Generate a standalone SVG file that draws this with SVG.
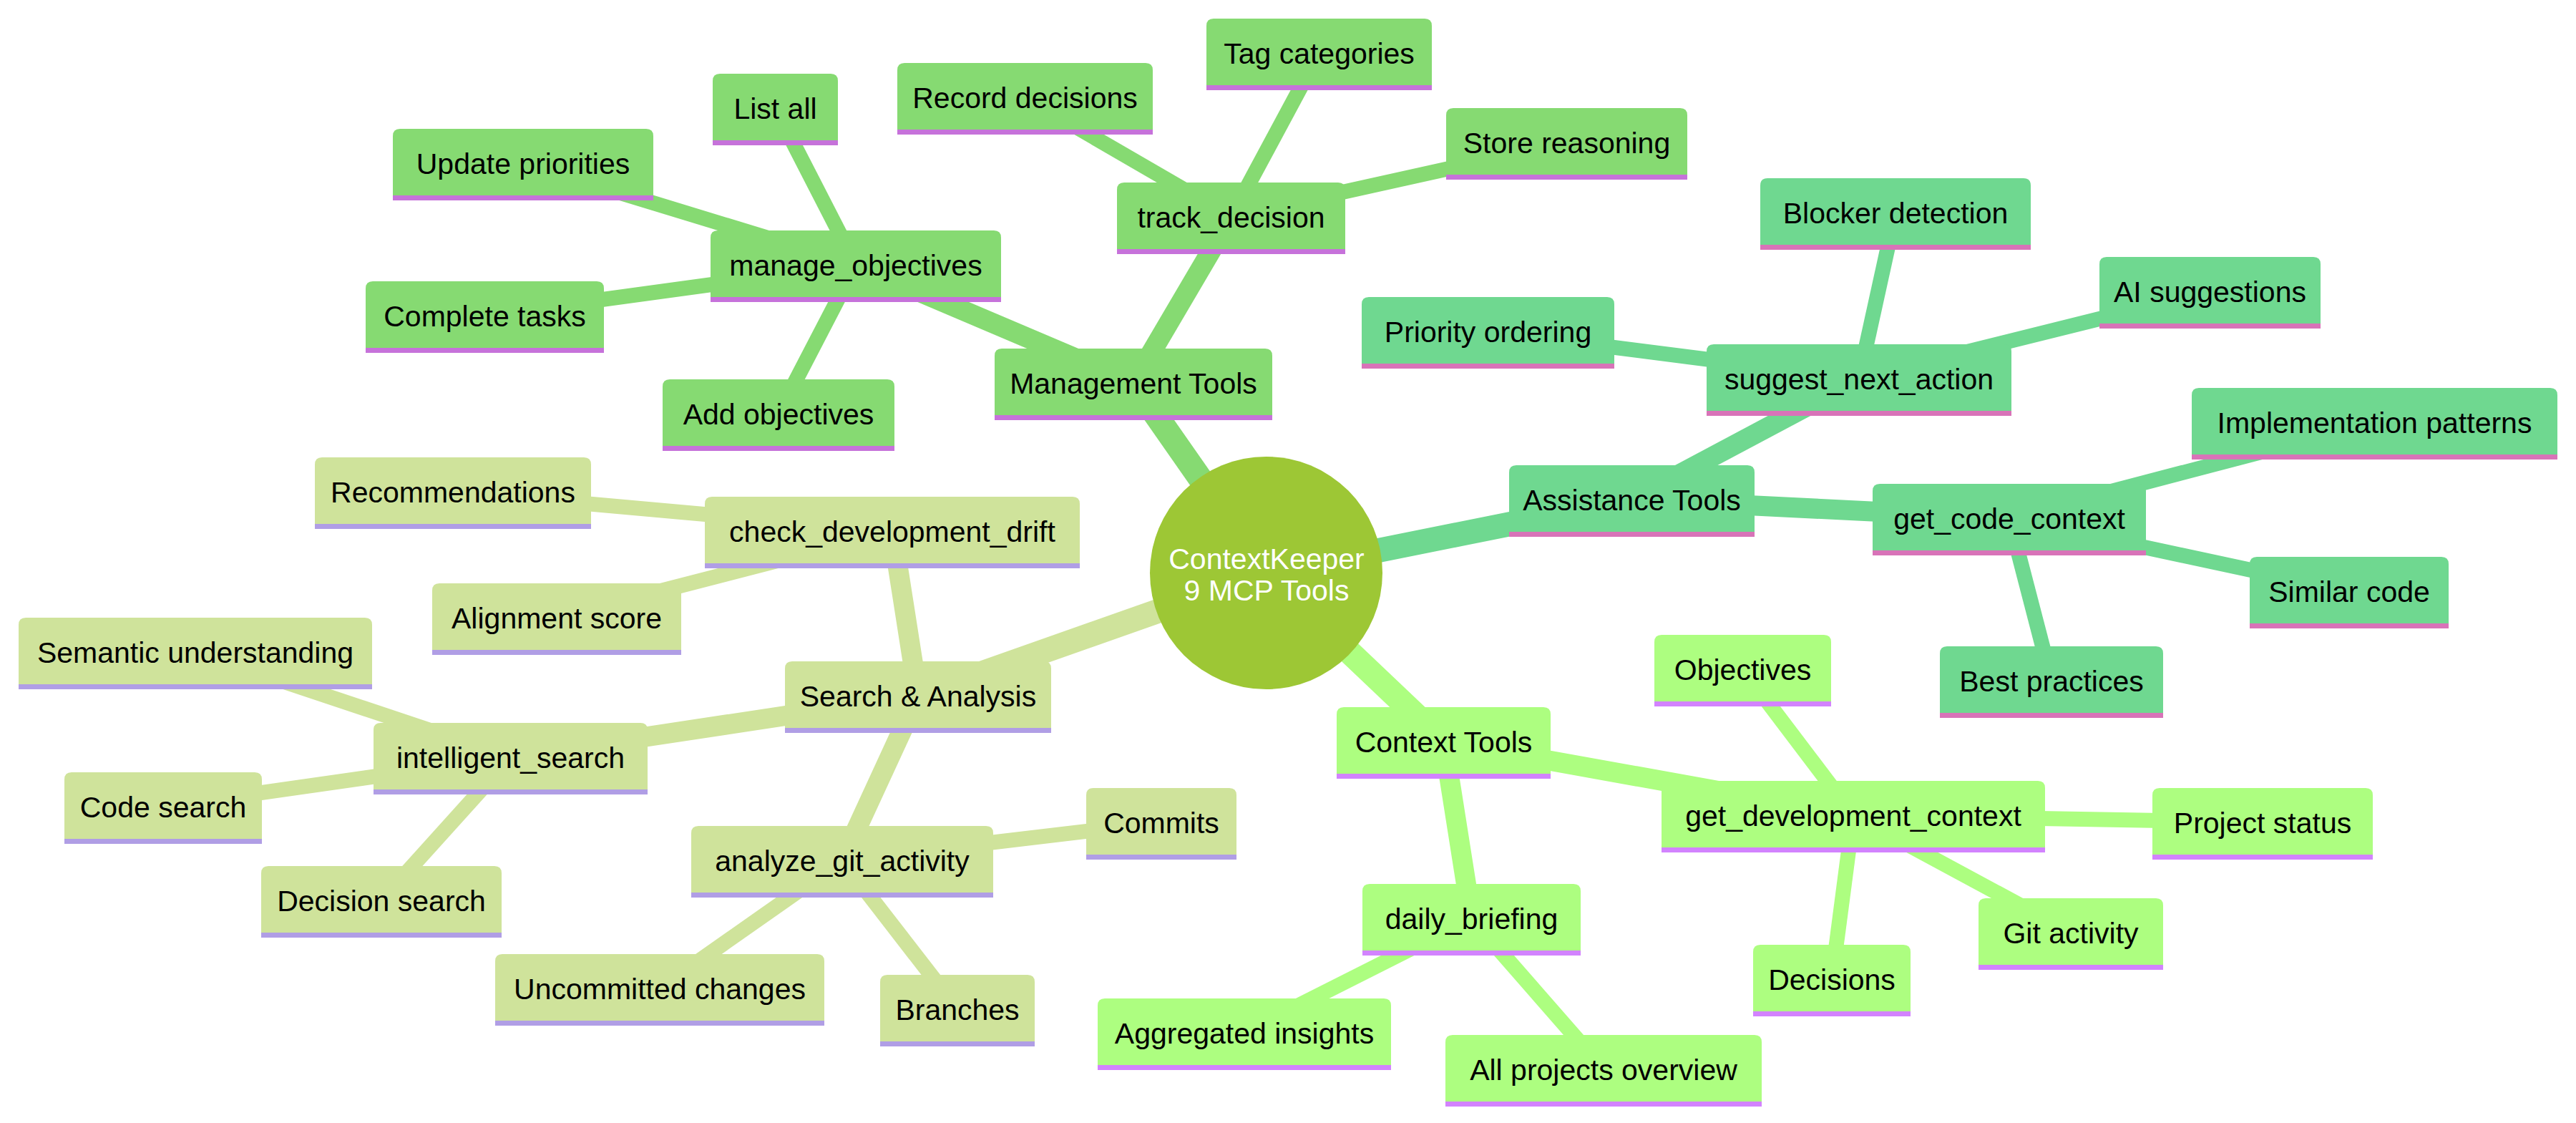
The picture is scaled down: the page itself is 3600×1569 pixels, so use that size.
<svg xmlns="http://www.w3.org/2000/svg" width="3600" height="1569" viewBox="0 0 3600 1569">
<style>
  .bg{fill:#ffffff}
  .lbl{font-family:"Liberation Sans",Arial,sans-serif;font-size:41px;fill:#000000;text-anchor:middle}
  .rootlbl{font-family:"Liberation Sans",Arial,sans-serif;font-size:41px;fill:#ffffff;text-anchor:middle}
  .d0{stroke-width:34;fill:none}
  .d1{stroke-width:28;fill:none}
  .d2{stroke-width:21;fill:none}
  .bar{stroke-width:7}
  .s0 path{fill:#86da72}.s0 line.bar{stroke:#c672da}.e0{stroke:#86da72}
  .s1 path{fill:#6fd890}.s1 line.bar{stroke:#d873b8}.e1{stroke:#6fd890}
  .s2 path{fill:#adfe80}.s2 line.bar{stroke:#d283fe}.e2{stroke:#adfe80}
  .s3 path{fill:#cfe39b}.s3 line.bar{stroke:#b09ee5}.e3{stroke:#cfe39b}
</style>
<rect class="bg" x="0" y="0" width="3600" height="1569"/>
<g id="connectors">
  <line class="d0 e0" x1="1769.5" y1="800.5" x2="1584" y2="535"/>
  <line class="d0 e1" x1="1769.5" y1="800.5" x2="2280.5" y2="698"/>
  <line class="d0 e2" x1="1769.5" y1="800.5" x2="2017.5" y2="1036"/>
  <line class="d0 e3" x1="1769.5" y1="800.5" x2="1283" y2="972"/>
  <line class="d1 e0" x1="1584" y1="535" x2="1196" y2="370"/>
  <line class="d1 e0" x1="1584" y1="535" x2="1720.5" y2="303"/>
  <line class="d2 e0" x1="1196" y1="370" x2="1083.5" y2="151"/>
  <line class="d2 e0" x1="1196" y1="370" x2="731" y2="228"/>
  <line class="d2 e0" x1="1196" y1="370" x2="677.5" y2="441"/>
  <line class="d2 e0" x1="1196" y1="370" x2="1088" y2="578"/>
  <line class="d2 e0" x1="1720.5" y1="303" x2="1432.5" y2="136"/>
  <line class="d2 e0" x1="1720.5" y1="303" x2="1843.5" y2="74"/>
  <line class="d2 e0" x1="1720.5" y1="303" x2="2189.5" y2="199"/>
  <line class="d1 e1" x1="2280.5" y1="698" x2="2598" y2="529"/>
  <line class="d1 e1" x1="2280.5" y1="698" x2="2808" y2="724"/>
  <line class="d2 e1" x1="2598" y1="529" x2="2079.5" y2="463"/>
  <line class="d2 e1" x1="2598" y1="529" x2="2649" y2="297"/>
  <line class="d2 e1" x1="2598" y1="529" x2="3088.5" y2="407"/>
  <line class="d2 e1" x1="2808" y1="724" x2="3318.5" y2="590"/>
  <line class="d2 e1" x1="2808" y1="724" x2="3283" y2="826"/>
  <line class="d2 e1" x1="2808" y1="724" x2="2867" y2="951"/>
  <line class="d1 e2" x1="2017.5" y1="1036" x2="2590" y2="1139"/>
  <line class="d1 e2" x1="2017.5" y1="1036" x2="2056.5" y2="1283"/>
  <line class="d2 e2" x1="2590" y1="1139" x2="2435.5" y2="935"/>
  <line class="d2 e2" x1="2590" y1="1139" x2="3162" y2="1149"/>
  <line class="d2 e2" x1="2590" y1="1139" x2="2894" y2="1303"/>
  <line class="d2 e2" x1="2590" y1="1139" x2="2560" y2="1368"/>
  <line class="d2 e2" x1="2056.5" y1="1283" x2="1739" y2="1443"/>
  <line class="d2 e2" x1="2056.5" y1="1283" x2="2241" y2="1494"/>
  <line class="d1 e3" x1="1283" y1="972" x2="1247" y2="742"/>
  <line class="d1 e3" x1="1283" y1="972" x2="713.5" y2="1058"/>
  <line class="d1 e3" x1="1283" y1="972" x2="1177" y2="1202"/>
  <line class="d2 e3" x1="1247" y1="742" x2="633" y2="687"/>
  <line class="d2 e3" x1="1247" y1="742" x2="778" y2="863"/>
  <line class="d2 e3" x1="713.5" y1="1058" x2="273" y2="911"/>
  <line class="d2 e3" x1="713.5" y1="1058" x2="228" y2="1127"/>
  <line class="d2 e3" x1="713.5" y1="1058" x2="533" y2="1258"/>
  <line class="d2 e3" x1="1177" y1="1202" x2="1623" y2="1149"/>
  <line class="d2 e3" x1="1177" y1="1202" x2="1338" y2="1410"/>
  <line class="d2 e3" x1="1177" y1="1202" x2="922" y2="1381"/>
</g>
<g id="root">
  <circle cx="1769.5" cy="800.5" r="162.5" fill="#9dc735"/>
  <text class="rootlbl" x="1770" y="795">ContextKeeper</text>
  <text class="rootlbl" x="1770" y="839">9 MCP Tools</text>
</g>
<g id="management-tools" class="s0"><path d="M1390,584V497Q1390,487 1400,487H1768Q1778,487 1778,497V584Z"/><line class="bar" x1="1390" y1="583.5" x2="1778" y2="583.5"/><text class="lbl" x="1584" y="550">Management Tools</text></g>
<g id="manage-objectives" class="s0"><path d="M993,419V332Q993,322 1003,322H1389Q1399,322 1399,332V419Z"/><line class="bar" x1="993" y1="418.5" x2="1399" y2="418.5"/><text class="lbl" x="1196" y="385">manage_objectives</text></g>
<g id="track-decision" class="s0"><path d="M1561,352V265Q1561,255 1571,255H1870Q1880,255 1880,265V352Z"/><line class="bar" x1="1561" y1="351.5" x2="1880" y2="351.5"/><text class="lbl" x="1720.5" y="318">track_decision</text></g>
<g id="list-all" class="s0"><path d="M996,200V113Q996,103 1006,103H1161Q1171,103 1171,113V200Z"/><line class="bar" x1="996" y1="199.5" x2="1171" y2="199.5"/><text class="lbl" x="1083.5" y="166">List all</text></g>
<g id="update-priorities" class="s0"><path d="M549,277V190Q549,180 559,180H903Q913,180 913,190V277Z"/><line class="bar" x1="549" y1="276.5" x2="913" y2="276.5"/><text class="lbl" x="731" y="243">Update priorities</text></g>
<g id="complete-tasks" class="s0"><path d="M511,490V403Q511,393 521,393H834Q844,393 844,403V490Z"/><line class="bar" x1="511" y1="489.5" x2="844" y2="489.5"/><text class="lbl" x="677.5" y="456">Complete tasks</text></g>
<g id="add-objectives" class="s0"><path d="M926,627V540Q926,530 936,530H1240Q1250,530 1250,540V627Z"/><line class="bar" x1="926" y1="626.5" x2="1250" y2="626.5"/><text class="lbl" x="1088" y="593">Add objectives</text></g>
<g id="record-decisions" class="s0"><path d="M1254,185V98Q1254,88 1264,88H1601Q1611,88 1611,98V185Z"/><line class="bar" x1="1254" y1="184.5" x2="1611" y2="184.5"/><text class="lbl" x="1432.5" y="151">Record decisions</text></g>
<g id="tag-categories" class="s0"><path d="M1686,123V36Q1686,26 1696,26H1991Q2001,26 2001,36V123Z"/><line class="bar" x1="1686" y1="122.5" x2="2001" y2="122.5"/><text class="lbl" x="1843.5" y="89">Tag categories</text></g>
<g id="store-reasoning" class="s0"><path d="M2021,248V161Q2021,151 2031,151H2348Q2358,151 2358,161V248Z"/><line class="bar" x1="2021" y1="247.5" x2="2358" y2="247.5"/><text class="lbl" x="2189.5" y="214">Store reasoning</text></g>
<g id="assistance-tools" class="s1"><path d="M2109,747V660Q2109,650 2119,650H2442Q2452,650 2452,660V747Z"/><line class="bar" x1="2109" y1="746.5" x2="2452" y2="746.5"/><text class="lbl" x="2280.5" y="713">Assistance Tools</text></g>
<g id="suggest-next-action" class="s1"><path d="M2385,578V491Q2385,481 2395,481H2801Q2811,481 2811,491V578Z"/><line class="bar" x1="2385" y1="577.5" x2="2811" y2="577.5"/><text class="lbl" x="2598" y="544">suggest_next_action</text></g>
<g id="get-code-context" class="s1"><path d="M2617,773V686Q2617,676 2627,676H2989Q2999,676 2999,686V773Z"/><line class="bar" x1="2617" y1="772.5" x2="2999" y2="772.5"/><text class="lbl" x="2808" y="739">get_code_context</text></g>
<g id="priority-ordering" class="s1"><path d="M1903,512V425Q1903,415 1913,415H2246Q2256,415 2256,425V512Z"/><line class="bar" x1="1903" y1="511.5" x2="2256" y2="511.5"/><text class="lbl" x="2079.5" y="478">Priority ordering</text></g>
<g id="blocker-detection" class="s1"><path d="M2460,346V259Q2460,249 2470,249H2828Q2838,249 2838,259V346Z"/><line class="bar" x1="2460" y1="345.5" x2="2838" y2="345.5"/><text class="lbl" x="2649" y="312">Blocker detection</text></g>
<g id="ai-suggestions" class="s1"><path d="M2934,456V369Q2934,359 2944,359H3233Q3243,359 3243,369V456Z"/><line class="bar" x1="2934" y1="455.5" x2="3243" y2="455.5"/><text class="lbl" x="3088.5" y="422">AI suggestions</text></g>
<g id="implementation-patterns" class="s1"><path d="M3063,639V552Q3063,542 3073,542H3564Q3574,542 3574,552V639Z"/><line class="bar" x1="3063" y1="638.5" x2="3574" y2="638.5"/><text class="lbl" x="3318.5" y="605">Implementation patterns</text></g>
<g id="similar-code" class="s1"><path d="M3144,875V788Q3144,778 3154,778H3412Q3422,778 3422,788V875Z"/><line class="bar" x1="3144" y1="874.5" x2="3422" y2="874.5"/><text class="lbl" x="3283" y="841">Similar code</text></g>
<g id="best-practices" class="s1"><path d="M2711,1000V913Q2711,903 2721,903H3013Q3023,903 3023,913V1000Z"/><line class="bar" x1="2711" y1="999.5" x2="3023" y2="999.5"/><text class="lbl" x="2867" y="966">Best practices</text></g>
<g id="context-tools" class="s2"><path d="M1868,1085V998Q1868,988 1878,988H2157Q2167,988 2167,998V1085Z"/><line class="bar" x1="1868" y1="1084.5" x2="2167" y2="1084.5"/><text class="lbl" x="2017.5" y="1051">Context Tools</text></g>
<g id="get-development-context" class="s2"><path d="M2322,1188V1101Q2322,1091 2332,1091H2848Q2858,1091 2858,1101V1188Z"/><line class="bar" x1="2322" y1="1187.5" x2="2858" y2="1187.5"/><text class="lbl" x="2590" y="1154">get_development_context</text></g>
<g id="daily-briefing" class="s2"><path d="M1904,1332V1245Q1904,1235 1914,1235H2199Q2209,1235 2209,1245V1332Z"/><line class="bar" x1="1904" y1="1331.5" x2="2209" y2="1331.5"/><text class="lbl" x="2056.5" y="1298">daily_briefing</text></g>
<g id="objectives" class="s2"><path d="M2312,984V897Q2312,887 2322,887H2549Q2559,887 2559,897V984Z"/><line class="bar" x1="2312" y1="983.5" x2="2559" y2="983.5"/><text class="lbl" x="2435.5" y="950">Objectives</text></g>
<g id="project-status" class="s2"><path d="M3008,1198V1111Q3008,1101 3018,1101H3306Q3316,1101 3316,1111V1198Z"/><line class="bar" x1="3008" y1="1197.5" x2="3316" y2="1197.5"/><text class="lbl" x="3162" y="1164">Project status</text></g>
<g id="git-activity" class="s2"><path d="M2765,1352V1265Q2765,1255 2775,1255H3013Q3023,1255 3023,1265V1352Z"/><line class="bar" x1="2765" y1="1351.5" x2="3023" y2="1351.5"/><text class="lbl" x="2894" y="1318">Git activity</text></g>
<g id="decisions" class="s2"><path d="M2450,1417V1330Q2450,1320 2460,1320H2660Q2670,1320 2670,1330V1417Z"/><line class="bar" x1="2450" y1="1416.5" x2="2670" y2="1416.5"/><text class="lbl" x="2560" y="1383">Decisions</text></g>
<g id="aggregated-insights" class="s2"><path d="M1534,1492V1405Q1534,1395 1544,1395H1934Q1944,1395 1944,1405V1492Z"/><line class="bar" x1="1534" y1="1491.5" x2="1944" y2="1491.5"/><text class="lbl" x="1739" y="1458">Aggregated insights</text></g>
<g id="all-projects-overview" class="s2"><path d="M2020,1543V1456Q2020,1446 2030,1446H2452Q2462,1446 2462,1456V1543Z"/><line class="bar" x1="2020" y1="1542.5" x2="2462" y2="1542.5"/><text class="lbl" x="2241" y="1509">All projects overview</text></g>
<g id="search-analysis" class="s3"><path d="M1097,1021V934Q1097,924 1107,924H1459Q1469,924 1469,934V1021Z"/><line class="bar" x1="1097" y1="1020.5" x2="1469" y2="1020.5"/><text class="lbl" x="1283" y="987">Search &amp; Analysis</text></g>
<g id="check-development-drift" class="s3"><path d="M985,791V704Q985,694 995,694H1499Q1509,694 1509,704V791Z"/><line class="bar" x1="985" y1="790.5" x2="1509" y2="790.5"/><text class="lbl" x="1247" y="757">check_development_drift</text></g>
<g id="intelligent-search" class="s3"><path d="M522,1107V1020Q522,1010 532,1010H895Q905,1010 905,1020V1107Z"/><line class="bar" x1="522" y1="1106.5" x2="905" y2="1106.5"/><text class="lbl" x="713.5" y="1073">intelligent_search</text></g>
<g id="analyze-git-activity" class="s3"><path d="M966,1251V1164Q966,1154 976,1154H1378Q1388,1154 1388,1164V1251Z"/><line class="bar" x1="966" y1="1250.5" x2="1388" y2="1250.5"/><text class="lbl" x="1177" y="1217">analyze_git_activity</text></g>
<g id="recommendations" class="s3"><path d="M440,736V649Q440,639 450,639H816Q826,639 826,649V736Z"/><line class="bar" x1="440" y1="735.5" x2="826" y2="735.5"/><text class="lbl" x="633" y="702">Recommendations</text></g>
<g id="alignment-score" class="s3"><path d="M604,912V825Q604,815 614,815H942Q952,815 952,825V912Z"/><line class="bar" x1="604" y1="911.5" x2="952" y2="911.5"/><text class="lbl" x="778" y="878">Alignment score</text></g>
<g id="semantic-understanding" class="s3"><path d="M26,960V873Q26,863 36,863H510Q520,863 520,873V960Z"/><line class="bar" x1="26" y1="959.5" x2="520" y2="959.5"/><text class="lbl" x="273" y="926">Semantic understanding</text></g>
<g id="code-search" class="s3"><path d="M90,1176V1089Q90,1079 100,1079H356Q366,1079 366,1089V1176Z"/><line class="bar" x1="90" y1="1175.5" x2="366" y2="1175.5"/><text class="lbl" x="228" y="1142">Code search</text></g>
<g id="decision-search" class="s3"><path d="M365,1307V1220Q365,1210 375,1210H691Q701,1210 701,1220V1307Z"/><line class="bar" x1="365" y1="1306.5" x2="701" y2="1306.5"/><text class="lbl" x="533" y="1273">Decision search</text></g>
<g id="commits" class="s3"><path d="M1518,1198V1111Q1518,1101 1528,1101H1718Q1728,1101 1728,1111V1198Z"/><line class="bar" x1="1518" y1="1197.5" x2="1728" y2="1197.5"/><text class="lbl" x="1623" y="1164">Commits</text></g>
<g id="branches" class="s3"><path d="M1230,1459V1372Q1230,1362 1240,1362H1436Q1446,1362 1446,1372V1459Z"/><line class="bar" x1="1230" y1="1458.5" x2="1446" y2="1458.5"/><text class="lbl" x="1338" y="1425">Branches</text></g>
<g id="uncommitted-changes" class="s3"><path d="M692,1430V1343Q692,1333 702,1333H1142Q1152,1333 1152,1343V1430Z"/><line class="bar" x1="692" y1="1429.5" x2="1152" y2="1429.5"/><text class="lbl" x="922" y="1396">Uncommitted changes</text></g>
</svg>
